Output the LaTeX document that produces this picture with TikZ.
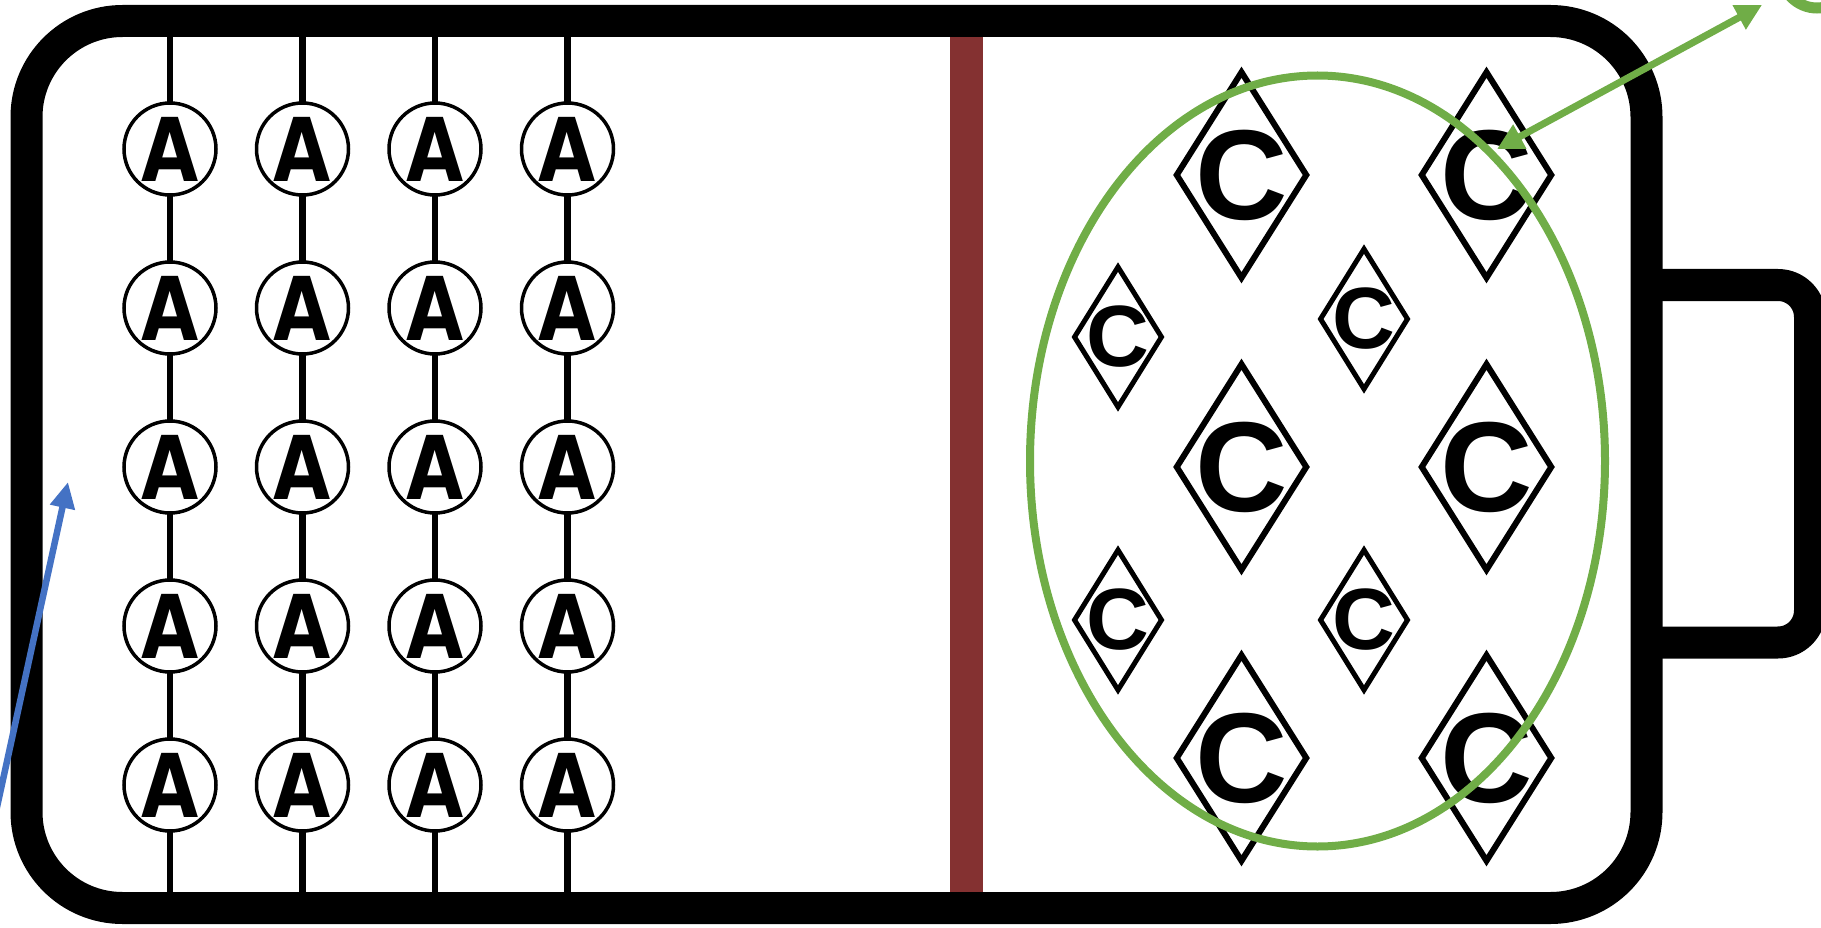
\documentclass[tikz,border=0pt]{standalone}
\usepackage{graphicx}
\usepackage{fontspec}
\newfontfamily\Afont{DejaVu Sans}
\newfontfamily\Cfont{Liberation Sans}
\usetikzlibrary{shapes.geometric,arrows.meta}
\definecolor{sepbrown}{RGB}{132,49,49}
\definecolor{gr}{RGB}{112,173,71}
\definecolor{bl}{RGB}{68,114,196}
\tikzset{
  frame/.style={draw=black, line width=32pt, line join=round},
  anode/.style={circle, draw, line width=3.5pt, fill=white, minimum size=92pt, inner sep=0pt,
    font=\Afont\bfseries\fontsize{88}{88}\selectfont},
  wire/.style={draw=black, line width=6.5pt},
  bigc/.style={diamond, draw, line width=6pt, minimum width=132pt, minimum height=208pt, inner sep=0pt,
    label={[font=\Cfont\bfseries\fontsize{128}{128}\selectfont, inner sep=0pt]center:C}},
  smallc/.style={diamond, draw, line width=5pt, minimum width=89pt, minimum height=142pt, inner sep=0pt,
    label={[font=\Cfont\bfseries\fontsize{87}{87}\selectfont, inner sep=0pt]center:C}},
  garrow/.style={draw=gr, line width=7pt, {Triangle[length=26pt,width=26pt]}-{Triangle[length=26pt,width=26pt]}},
  barrow/.style={draw=bl, line width=6.5pt, -{Triangle[length=26pt,width=24pt]}},
}
\begin{document}
\begin{tikzpicture}[x=1pt,y=-1pt]
\useasboundingbox (0,0) rectangle (1821,928);
% separator
\fill[sepbrown] (950,37) rectangle (983,897);
% battery body and terminal
\draw[frame, rounded corners=96pt] (26.5,21) rectangle (1646.5,908);
\draw[frame, rounded corners=32pt] (1646.5,285) -- (1810,285) -- (1810,642.5) -- (1646.5,642.5);
% anode columns
\foreach \c/\x in {1/170,2/302.5,3/435,4/567.5}{
  \coordinate (t\c) at (\x,37);
  \coordinate (b\c) at (\x,893);
  \foreach \r/\y in {1/149,2/308,3/467,4/626,5/785}{
    \coordinate (p\c\r) at (\x,\y);
  }
  \draw[wire] (t\c) -- (b\c);
  \foreach \r in {1,...,5}{
    \node[anode] (a\c\r) at (p\c\r) {\scalebox{0.84}[1]{A}};
  }
}
% cathode particles
\node[bigc] (c1) at (1241.5,175) {};
\node[bigc] (c2) at (1486.5,175) {};
\node[bigc] (c3) at (1241.5,467) {};
\node[bigc] (c4) at (1486.5,467) {};
\node[bigc] (c5) at (1241.5,758) {};
\node[bigc] (c6) at (1486.5,758) {};
\node[smallc] (s1) at (1118,337) {};
\node[smallc] (s2) at (1364,319) {};
\node[smallc] (s3) at (1118,620) {};
\node[smallc] (s4) at (1364,620) {};
% cathode region
\draw[gr, line width=8pt] (1317.5,461) ellipse (287.5 and 385.5);
% callout circle (cut off)
\node[circle, draw=gr, line width=11pt, minimum size=72pt, inner sep=0pt] (gc) at (1817,-28) {};
% arrows
\coordinate (gtip) at (1497,149);
\coordinate (gend) at (1762,5);
\draw[garrow] (gtip) -- (gend);
\coordinate (btail) at (-8,830);
\coordinate (btip) at (68,482);
\draw[barrow] (btail) -- (btip);
\end{tikzpicture}
\end{document}
